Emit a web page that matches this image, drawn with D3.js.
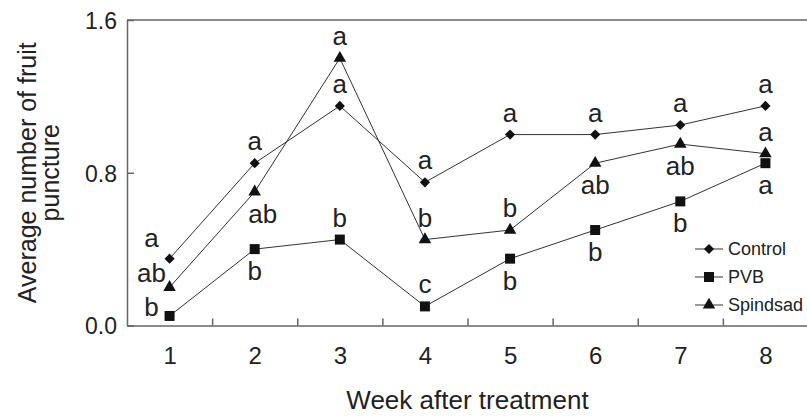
<!DOCTYPE html>
<html>
<head>
<meta charset="utf-8">
<script src="https://cdn.jsdelivr.net/npm/d3@7"></script>
<style>
  body { margin: 0; background: #fff; }
  svg text { font-family: "Liberation Sans", Arial, sans-serif; fill: #222; }
  .axis path, .axis line { stroke: #666; stroke-width: 1.5; }
</style>
</head>
<body>
<svg id="chart" width="807" height="416"></svg>
<script>
// weeks after treatment
var weeks = [1, 2, 3, 4, 5, 6, 7, 8];
var seriesNames = ["Control", "PVB", "Spindsad"];
var control = [0.35, 0.85, 1.15, 0.75, 1.0, 1.0, 1.05, 1.15];
var pvb = [0.05, 0.40, 0.45, 0.10, 0.35, 0.50, 0.65, 0.85];
var spinosad = [0.20, 0.70, 1.40, 0.45, 0.50, 0.85, 0.95, 0.90];
// significance letters
var controlLetters = ["a", "a", "a", "a", "a", "a", "a", "a"];
var pvbLetters = ["b", "b", "b", "c", "b", "b", "b", "a"];
var spinosadLetters = ["ab", "ab", "a", "b", "b", "ab", "ab", "a"];
var yTicks = [0, 0.8, 1.6];

// where each letter sits relative to its point: L = left, A = above, B = below
var controlPlace = ["L1", "A", "A", "A", "A", "A", "A", "A"];
var pvbPlace = ["L3", "B", "A", "A", "B", "B", "B", "B"];
var spinosadPlace = ["L2", "BR", "A", "A", "A", "B", "B", "A"];

var series = [
  {name: seriesNames[0], values: control, letters: controlLetters, place: controlPlace, shape: "diamond"},
  {name: seriesNames[1], values: pvb, letters: pvbLetters, place: pvbPlace, shape: "square"},
  {name: seriesNames[2], values: spinosad, letters: spinosadLetters, place: spinosadPlace, shape: "triangle"}
];

var svg = d3.select("#chart");
var plotL = 127, plotR = 808, plotT = 20, plotB = 325.5;

var x = d3.scaleLinear().domain([0.5, 8.5]).range([plotL, plotR]);
var y = d3.scaleLinear().domain([0, 1.6]).range([plotB, plotT]);

function symbolPath(shape) {
  if (shape === "diamond") return d3.symbol().type(d3.symbolSquare).size(52)();
  if (shape === "square") return d3.symbol().type(d3.symbolSquare).size(100)();
  return d3.symbol().type(d3.symbolTriangle).size(68)();
}
function symbolRotate(shape) { return shape === "diamond" ? " rotate(45)" : ""; }

// frame top line
svg.append("line")
  .attr("x1", plotL).attr("x2", 807)
  .attr("y1", plotT).attr("y2", plotT)
  .attr("stroke", "#666").attr("stroke-width", 1.5);

// x axis: ticks between weeks, pointing inward
svg.append("g")
  .attr("class", "axis")
  .attr("transform", "translate(0," + plotB + ")")
  .call(d3.axisBottom(x).tickValues(d3.range(1.5, 8, 1)).tickSizeInner(-7).tickSizeOuter(0).tickFormat(""));

var xLab = svg.append("g")
  .attr("transform", "translate(0," + plotB + ")")
  .call(d3.axisBottom(x).tickValues(weeks).tickSize(0).tickPadding(21));
xLab.select(".domain").remove();
xLab.selectAll("text").attr("font-size", 24).attr("fill", "#222");

// y axis
var yAx = svg.append("g")
  .attr("class", "axis")
  .attr("transform", "translate(" + plotL + ",0)")
  .call(d3.axisLeft(y).tickValues(yTicks).tickSizeInner(-7).tickSizeOuter(0).tickPadding(10).tickFormat(d3.format(".1f")));
yAx.selectAll("text").attr("font-size", 23).attr("fill", "#222").attr("dy", "0.36em");

// lines
var line = d3.line()
  .x(function(d, i) { return x(weeks[i]); })
  .y(function(d) { return y(d); });

series.forEach(function(s) {
  svg.append("path")
    .datum(s.values)
    .attr("d", line)
    .attr("fill", "none")
    .attr("stroke", "#333")
    .attr("stroke-width", 1);
});

series.forEach(function(s) {
  svg.selectAll(".m-" + s.shape)
    .data(s.values)
    .enter().append("path")
    .attr("d", symbolPath(s.shape))
    .attr("transform", function(d, i) { return "translate(" + x(weeks[i]) + "," + y(d) + ")" + symbolRotate(s.shape); })
    .attr("fill", "#111");
});

// letters
function letterOffset(p) {
  if (p === "A") return [0, -13];
  if (p === "B") return [0, 31];
  if (p === "BR") return [8, 31];
  if (p === "L1") return [-18, -12];
  if (p === "L2") return [-18, -5];
  return [-18, 0];
}
series.forEach(function(s) {
  svg.selectAll(".l-" + s.shape)
    .data(s.values)
    .enter().append("text")
    .attr("x", function(d, i) { return x(weeks[i]) + letterOffset(s.place[i])[0]; })
    .attr("y", function(d, i) { return y(d) + letterOffset(s.place[i])[1]; })
    .attr("text-anchor", "middle")
    .attr("font-size", 26)
    .text(function(d, i) { return s.letters[i]; });
});

// legend
var legendY = [249, 277, 305];
var lg = svg.append("g").attr("transform", "translate(695,0)");
series.forEach(function(s, i) {
  lg.append("line")
    .attr("x1", 0).attr("x2", 28)
    .attr("y1", legendY[i]).attr("y2", legendY[i])
    .attr("stroke", "#333").attr("stroke-width", 1);
  lg.append("path")
    .attr("d", symbolPath(s.shape))
    .attr("transform", "translate(14," + legendY[i] + ")" + symbolRotate(s.shape))
    .attr("fill", "#111");
  lg.append("text")
    .attr("x", 33).attr("y", legendY[i])
    .attr("dy", "0.36em")
    .attr("font-size", 18)
    .text(s.name);
});

// axis titles
svg.append("text")
  .attr("x", (plotL + plotR) / 2).attr("y", 409)
  .attr("text-anchor", "middle")
  .attr("font-size", 26)
  .text("Week after treatment");

var yt = svg.append("text")
  .attr("transform", "translate(36," + ((plotT + plotB) / 2) + ") rotate(-90)")
  .attr("text-anchor", "middle")
  .attr("font-size", 25);
yt.append("tspan").attr("x", 0).attr("y", 0).text("Average number of fruit");
yt.append("tspan").attr("x", 0).attr("y", 23).text("puncture");
</script>
</body>
</html>
